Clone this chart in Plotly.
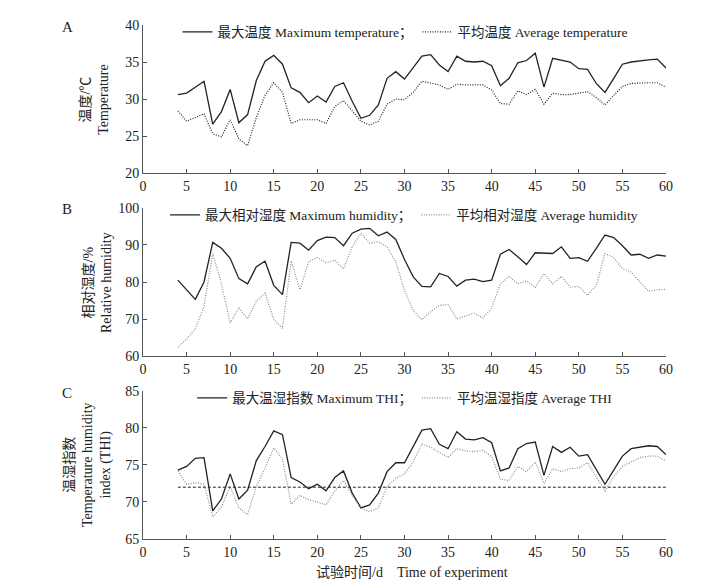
import plotly.graph_objects as go

# days of the experiment (4..60)
days = list(range(4, 61))

temp_max = [30.6, 30.8, 31.6, 32.4, 26.6, 28.3, 31.3, 26.8, 27.9, 32.5,
            35.1, 35.9, 34.7, 31.5, 30.9, 29.5, 30.4, 29.6, 31.7, 32.2,
            29.7, 27.4, 27.8, 29.2, 32.8, 33.7, 32.7, 34.2, 35.8, 36.0,
            34.6, 33.7, 35.8, 35.1, 35.0, 35.1, 34.5, 31.8, 32.8, 34.9,
            35.2, 36.2, 31.6, 35.5, 35.2, 35.0, 34.1, 34.0, 32.1, 30.9,
            32.8, 34.7, 35.0, 35.2, 35.3, 35.4, 34.2]
temp_avg = [28.4, 27.0, 27.5, 28.0, 25.3, 24.9, 27.2, 24.6, 23.7, 27.5,
            30.5, 32.2, 30.9, 26.7, 27.2, 27.2, 27.2, 26.7, 29.0, 29.8,
            28.4, 27.0, 26.5, 27.0, 29.3, 30.0, 29.9, 30.9, 32.4, 32.2,
            31.9, 31.3, 32.0, 31.9, 31.9, 31.9, 31.2, 29.4, 29.3, 31.1,
            30.6, 31.3, 29.3, 30.8, 30.6, 30.6, 30.8, 31.0, 30.2, 29.2,
            30.5, 31.7, 32.1, 32.2, 32.2, 32.2, 31.6]

hum_max = [80.5, 77.9, 75.3, 80.0, 90.7, 89.1, 86.4, 80.9, 79.5, 84.1,
           85.6, 79.1, 76.6, 90.7, 90.5, 88.6, 91.2, 92.1, 92.0, 89.8,
           93.2, 94.3, 94.5, 92.5, 93.5, 91.5, 86.1, 81.4, 78.8, 78.7,
           82.3, 81.5, 78.9, 80.5, 80.8, 80.1, 80.5, 87.5, 88.8, 86.8,
           84.7, 87.9, 87.7, 87.7, 89.5, 86.4, 86.6, 85.6, 89.1, 92.7,
           92.0, 89.8, 87.3, 87.5, 86.4, 87.3, 87.0]
hum_avg = [62.3, 64.6, 67.3, 73.4, 87.7, 79.5, 68.9, 73.0, 70.0, 74.8,
           77.0, 69.9, 67.5, 85.7, 77.9, 85.5, 86.6, 85.2, 85.9, 83.5,
           89.5, 93.2, 90.5, 90.9, 89.5, 85.5, 77.7, 72.3, 69.8, 72.0,
           73.7, 73.9, 70.0, 70.9, 71.6, 70.3, 73.0, 79.5, 81.5, 79.5,
           80.3, 78.5, 82.3, 79.5, 81.5, 78.6, 78.8, 76.4, 79.1, 87.7,
           86.6, 83.6, 82.7, 80.0, 77.5, 77.9, 78.0]

thi_max = [74.3, 74.8, 75.9, 76.0, 68.8, 70.4, 73.8, 70.4, 71.6, 75.6,
           77.5, 79.6, 79.1, 73.3, 72.7, 71.8, 72.4, 71.5, 73.3, 74.2,
           71.2, 69.2, 69.6, 71.2, 74.1, 75.3, 75.3, 77.4, 79.7, 79.9,
           77.8, 77.2, 79.5, 78.5, 78.4, 78.7, 78.0, 74.2, 74.6, 77.2,
           77.9, 78.1, 73.6, 77.5, 76.7, 77.4, 76.2, 76.4, 74.3, 72.4,
           74.3, 76.2, 77.2, 77.4, 77.6, 77.5, 76.4]
thi_avg = [74.2, 72.4, 72.6, 72.4, 68.0, 69.3, 72.1, 69.2, 68.3, 72.1,
           74.6, 77.3, 75.8, 69.7, 70.9, 70.3, 70.0, 69.6, 71.5, 72.9,
           70.9, 69.2, 68.7, 69.2, 72.1, 73.2, 73.8, 75.4, 77.8, 77.4,
           76.7, 76.0, 77.2, 76.9, 76.8, 77.0, 76.1, 73.1, 72.9, 74.8,
           74.1, 75.4, 72.5, 74.5, 74.1, 74.5, 74.6, 75.3, 73.4, 71.5,
           73.4, 74.8, 75.4, 76.0, 76.2, 76.2, 75.5]

thi_threshold = 72
thi_threshold_days = [4, 60]

FONT = "Liberation Serif, Times New Roman, Noto Sans CJK SC, serif"
INK = "#222222"
AXIS = "#555555"
GRAY = "#8a8a8a"

fig = go.Figure()

panels = [
    ("", "legend", temp_max, temp_avg, INK,
     "最大温度 Maximum temperature；", "平均温度 Average temperature"),
    ("2", "legend2", hum_max, hum_avg, GRAY,
     "最大相对湿度 Maximum humidity；", "平均相对湿度 Average humidity"),
    ("3", "legend3", thi_max, thi_avg, GRAY,
     "最大温湿指数 Maximum THI；", "平均温湿指度 Average THI"),
]

for ax, leg, ymax, yavg, avg_color, name_max, name_avg in panels:
    fig.add_trace(go.Scatter(
        x=days, y=ymax, mode="lines", name=name_max, legend=leg,
        xaxis="x" + ax, yaxis="y" + ax,
        line=dict(color=INK, width=1.3),
    ))
    fig.add_trace(go.Scatter(
        x=days, y=yavg, mode="lines", name=name_avg, legend=leg,
        xaxis="x" + ax, yaxis="y" + ax,
        line=dict(color=avg_color, width=1.2, dash="1px,1.5px"),
    ))

# THI threshold line
fig.add_trace(go.Scatter(
    x=thi_threshold_days, y=[thi_threshold] * len(thi_threshold_days),
    mode="lines", showlegend=False, xaxis="x3", yaxis="y3",
    line=dict(color=INK, width=1, dash="3px,2px"),
))

xbase = dict(
    range=[0, 60], dtick=5, tick0=0, showgrid=False, zeroline=False,
    showline=True, linecolor=AXIS, linewidth=1,
    ticks="inside", ticklen=4, tickcolor=AXIS,
    tickfont=dict(family=FONT, size=14, color=INK),
)
ybase = dict(
    showgrid=False, zeroline=False,
    showline=True, linecolor=AXIS, linewidth=1,
    ticks="inside", ticklen=4, tickcolor=AXIS,
    tickfont=dict(family=FONT, size=14, color=INK),
)

leg_base = dict(
    orientation="h", yanchor="middle", xanchor="left",
    font=dict(family=FONT, size=13.5, color=INK),
    bgcolor="rgba(0,0,0,0)", itemwidth=30, tracegroupgap=0,
)

fig.update_layout(
    width=721, height=585,
    margin=dict(l=143, r=55, t=25, b=46),
    paper_bgcolor="white", plot_bgcolor="white",
    font=dict(family=FONT, size=14, color=INK),
    xaxis=dict(xbase, domain=[0, 1], anchor="y"),
    yaxis=dict(ybase, domain=[0.712, 1], range=[20, 40], dtick=5, anchor="x"),
    xaxis2=dict(xbase, domain=[0, 1], anchor="y2"),
    yaxis2=dict(ybase, domain=[0.356, 0.644], range=[60, 100], dtick=10, anchor="x2"),
    xaxis3=dict(xbase, domain=[0, 1], anchor="y3"),
    yaxis3=dict(ybase, domain=[0, 0.288], range=[65, 85], dtick=5, anchor="x3"),
    legend=dict(leg_base, x=0.066, y=0.986),
    legend2=dict(leg_base, x=0.042, y=0.630),
    legend3=dict(leg_base, x=0.094, y=0.274),
    showlegend=True,
)

annots = [
    dict(text="A", x=-0.145, y=0.996),
    dict(text="B", x=-0.145, y=0.642),
    dict(text="C", x=-0.145, y=0.284),
]
for a in annots:
    fig.add_annotation(xref="paper", yref="paper", showarrow=False,
                       xanchor="center", yanchor="middle",
                       font=dict(family=FONT, size=15, color=INK), **a)

ytitles = [
    ("温度/℃<br>Temperature", -0.094, 0.856),
    ("相对湿度/%<br>Relative humidity", -0.088, 0.5),
    ("温湿指数<br>Temperature humidity<br>index (THI)", -0.105, 0.144),
]
for text, x, y in ytitles:
    fig.add_annotation(text=text, xref="paper", yref="paper", x=x, y=y,
                       showarrow=False, textangle=-90,
                       xanchor="center", yanchor="middle",
                       font=dict(family=FONT, size=14, color=INK))

fig.add_annotation(text="试验时间/d&nbsp;&nbsp;&nbsp;&nbsp;Time of experiment",
                   xref="paper", yref="paper", x=0.514, y=-0.066,
                   showarrow=False, xanchor="center", yanchor="middle",
                   font=dict(family=FONT, size=14, color=INK))

fig.write_html("out.html", config={"displayModeBar": False})

# drop the default page margin so the figure fills the window exactly
with open("out.html", "r") as f:
    html = f.read()
html = html.replace("<body>", '<body style="margin:0;overflow:hidden">', 1)
with open("out.html", "w") as f:
    f.write(html)
